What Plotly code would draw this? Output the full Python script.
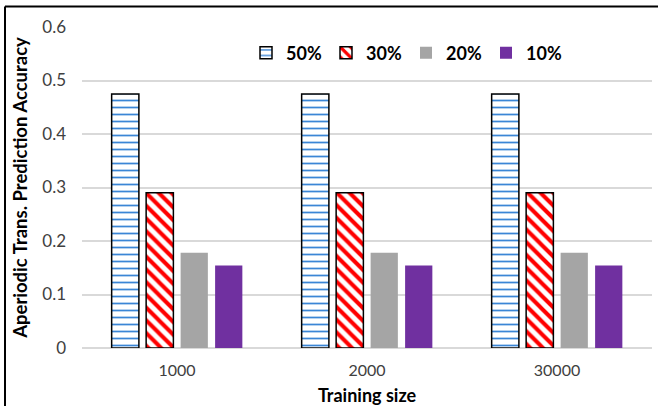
import plotly.graph_objects as go

# Prediction accuracy by training size for each labelled fraction
categories = ["1000", "2000", "30000"]
series_names = ["50%", "30%", "20%", "10%"]
acc_50 = [0.475, 0.475, 0.475]
acc_30 = [0.29, 0.29, 0.29]
acc_20 = [0.178, 0.178, 0.178]
acc_10 = [0.154, 0.154, 0.154]
y_ticks = [0, 0.1, 0.2, 0.3, 0.4, 0.5, 0.6]
y_tick_text = ["0", "0.1", "0.2", "0.3", "0.4", "0.5", "0.6"]

W, H = 658, 406
ML, MR, MT, MB = 82, 6, 27, 58

fig = go.Figure()

fig.add_trace(go.Bar(
    name=series_names[0], x=categories, y=acc_50,
    marker=dict(color="white", line=dict(color="black", width=1.5),
                pattern=dict(shape="-", fgcolor="#3b86d6", bgcolor="white",
                             size=7, solidity=0.25, fgopacity=1)),
))
fig.add_trace(go.Bar(
    name=series_names[1], x=categories, y=acc_30,
    marker=dict(color="white", line=dict(color="black", width=1.5),
                pattern=dict(shape="\\", fgcolor="#ff0000", bgcolor="white",
                             size=9, solidity=0.45, fgopacity=1)),
))
fig.add_trace(go.Bar(
    name=series_names[2], x=categories, y=acc_20,
    marker=dict(color="#a5a5a5", line=dict(color="#a5a5a5", width=0)),
))
fig.add_trace(go.Bar(
    name=series_names[3], x=categories, y=acc_10,
    marker=dict(color="#7030a0", line=dict(color="#7030a0", width=0)),
))

pw = W - ML - MR
ph = H - MT - MB

def px_x(p):
    return (p - ML) / pw

def px_y(p):
    return 1 - (p - MT) / ph

# outer frame (left and top edges visible)
fig.add_shape(type="line", xref="paper", yref="paper",
              x0=px_x(5), x1=px_x(5), y0=px_y(6.5), y1=px_y(420),
              line=dict(color="black", width=2))
fig.add_shape(type="line", xref="paper", yref="paper",
              x0=px_x(5), x1=px_x(670), y0=px_y(6.5), y1=px_y(6.5),
              line=dict(color="black", width=2))

font_family = "Lato, 'Open Sans', sans-serif"

fig.update_layout(
    width=W, height=H,
    margin=dict(l=ML, r=MR, t=MT, b=MB),
    paper_bgcolor="white", plot_bgcolor="white",
    barmode="group", bargap=0.274, bargroupgap=0.21,
    font=dict(family=font_family, color="#404040"),
    showlegend=True,
    legend=dict(orientation="h", x=px_x(246), y=px_y(53), xanchor="left", yanchor="middle",
                font=dict(size=18, color="black", family=font_family, weight="bold"),
                itemwidth=30, traceorder="normal", bgcolor="rgba(0,0,0,0)",
                entrywidth=35, entrywidthmode="pixels"),
    xaxis=dict(showline=False, ticks="", tickfont=dict(size=16, color="#404040"),
               ticklabelstandoff=11, automargin=False,
               title=dict(text="<b>Training size</b>", font=dict(size=18, color="black"),
                          standoff=11)),
    yaxis=dict(range=[0, 0.6], tickvals=y_ticks, ticktext=y_tick_text,
               showgrid=True, gridcolor="#d9d9d9", gridwidth=1.5,
               zeroline=True, zerolinecolor="#d9d9d9", zerolinewidth=1.5,
               automargin=False,
               ticks="", tickfont=dict(size=17, color="#404040"), ticklabelstandoff=15,
               title=dict(text="<b>Aperiodic Trans. Prediction Accuracy</b>",
                          font=dict(size=18.5, color="black"), standoff=9)),
)

fig.write_html("out.html")
